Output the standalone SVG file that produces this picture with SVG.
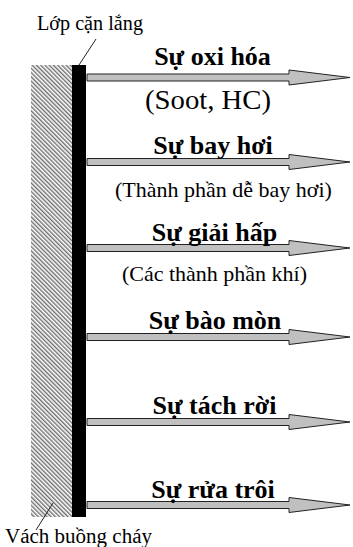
<svg xmlns="http://www.w3.org/2000/svg" width="353" height="547" viewBox="0 0 353 547">
  <style>
    .lbl { font-family: "Liberation Serif", "Times New Roman", serif; fill: #000; }
    .title { font-size: 26px; font-weight: bold; text-anchor: middle; }
    .sub { font-size: 22px; text-anchor: middle; }
    .note { font-size: 20px; }
    .arrow { fill: #c0c0c0; stroke: #222; stroke-width: 1; stroke-linejoin: miter; }
    .leader { stroke: #222; stroke-width: 1; fill: none; }
  </style>
  <defs>
    <pattern id="hatch" width="3" height="3" patternUnits="userSpaceOnUse" patternTransform="rotate(-45)">
      <rect x="0" y="0" width="1.4" height="3" fill="#6e6e6e"/>
    </pattern>
    <!-- one arrow, drawn centred on y=0 -->
    <polygon id="arr" class="arrow" points="87,-3.5 289,-3.5 289,-7.5 350,0 289,7.5 289,3.5 87,3.5"/>
  </defs>
  <rect width="353" height="547" fill="#fff"/>

  <g id="wall">
    <rect x="31" y="65" width="41" height="452" fill="url(#hatch)"/>
    <text class="lbl note" x="5" y="543" style="font-size:20px" textLength="147" lengthAdjust="spacingAndGlyphs">Vách buồng cháy</text>
  </g>

  <g id="deposit">
    <rect x="72" y="65" width="14" height="452" fill="#000"/>
    <text class="lbl note" x="37" y="30" textLength="106" lengthAdjust="spacingAndGlyphs">Lớp cặn lắng</text>
  </g>

  <g id="connectors">
    <line class="leader" x1="96" y1="39" x2="79" y2="65"/>
    <line class="leader" x1="36" y1="530" x2="53" y2="503"/>
    <use href="#arr" y="77.5"/>
    <use href="#arr" y="162"/>
    <use href="#arr" y="248"/>
    <use href="#arr" y="337"/>
    <use href="#arr" y="422"/>
    <use href="#arr" y="505"/>
  </g>

  <g id="oxidation">
    <text class="lbl title" x="212.5" y="65">Sự oxi hóa</text>
    <text class="lbl sub" x="208" y="109" style="font-size:27px" textLength="126" lengthAdjust="spacingAndGlyphs">(Soot, HC)</text>
  </g>
  <g id="evaporation">
    <text class="lbl title" x="213" y="154">Sự bay hơi</text>
    <text class="lbl sub" x="223.5" y="197">(Thành phần dễ bay hơi)</text>
  </g>
  <g id="desorption">
    <text class="lbl title" x="214.5" y="241">Sự giải hấp</text>
    <text class="lbl sub" x="214.5" y="281">(Các thành phần khí)</text>
  </g>
  <g id="abrasion">
    <text class="lbl title" x="215" y="329">Sự bào mòn</text>
  </g>
  <g id="detachment">
    <text class="lbl title" x="214.5" y="414">Sự tách rời</text>
  </g>
  <g id="washout">
    <text class="lbl title" x="213" y="498">Sự rửa trôi</text>
  </g>
</svg>
